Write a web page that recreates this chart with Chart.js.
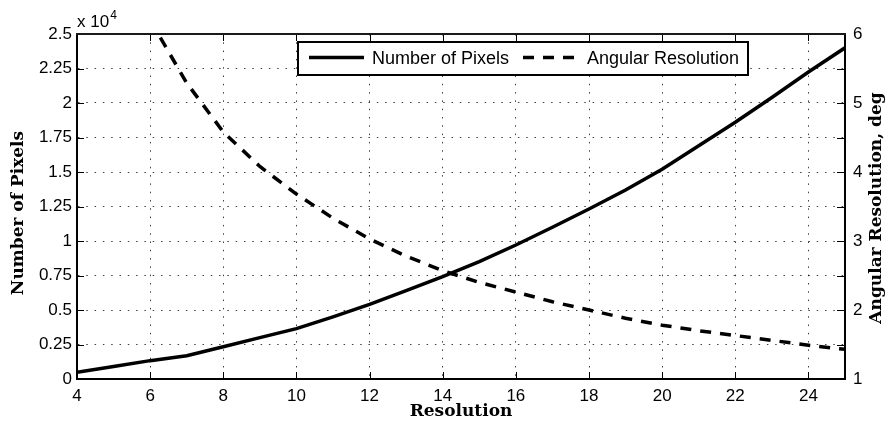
<!DOCTYPE html>
<html>
<head>
<meta charset="utf-8">
<script src="https://cdn.jsdelivr.net/npm/chart.js@4/dist/chart.umd.min.js"></script>
<style>
  html, body { margin: 0; padding: 0; background: #fff; }
  #wrap { width: 888px; height: 425px; position: relative; }
</style>
</head>
<body>
<div id="wrap"><canvas id="c"></canvas></div>
<script>
// Resolution levels on the x axis
const resolution = [4, 5, 6, 7, 8, 9, 10, 11, 12, 13, 14, 15, 16, 17, 18, 19, 20, 21, 22, 23, 24, 25];
// Total pixel count for each resolution
const numPixels = [480, 900, 1330, 1690, 2340, 3000, 3650, 4500, 5410, 6400, 7410, 8500,
                   9710, 11000, 12320, 13700, 15200, 16900, 18600, 20400, 22250, 24000];
// Angular resolution in degrees for each resolution
const angRes = [9.8, 7.5, 6.2, 5.29, 4.58, 4.08, 3.68, 3.33, 3.03, 2.78, 2.57, 2.40,
                2.26, 2.12, 2.0, 1.88, 1.78, 1.70, 1.63, 1.56, 1.49, 1.43];

// Tick values
const xTicks = [4, 6, 8, 10, 12, 14, 16, 18, 20, 22, 24];
const leftTicks = [0, 2500, 5000, 7500, 10000, 12500, 15000, 17500, 20000, 22500, 25000];
const rightTicks = [1, 2, 3, 4, 5, 6];
const rightMinorTicks = [1, 1.5, 2, 2.5, 3, 3.5, 4, 4.5, 5, 5.5, 6];

const tickFont = { family: 'Liberation Sans, Arial, sans-serif', size: 17 };
const gridDots = [1.5, 6.8];
const gridColor = 'rgba(0,0,0,0.75)';

const pts = (xs, ys) => xs.map((x, i) => ({ x: x, y: ys[i] }));

// Inward tick marks on all four sides plus the top frame edge
const frameTicks = {
  id: 'frameTicks',
  afterDatasetsDraw(chart) {
    const { ctx, chartArea: a, scales } = chart;
    ctx.save();
    ctx.strokeStyle = '#000';
    ctx.lineWidth = 1;
    const len = 7;
    ctx.beginPath();
    xTicks.forEach(v => {
      const px = Math.round(scales.x.getPixelForValue(v)) + 0.5;
      ctx.moveTo(px, a.bottom); ctx.lineTo(px, a.bottom - len);
      ctx.moveTo(px, a.top); ctx.lineTo(px, a.top + len);
    });
    leftTicks.forEach(v => {
      const py = Math.round(scales.y.getPixelForValue(v)) + 0.5;
      ctx.moveTo(a.left, py); ctx.lineTo(a.left + len, py);
    });
    rightMinorTicks.forEach(v => {
      const py = Math.round(scales.y2.getPixelForValue(v)) + 0.5;
      ctx.moveTo(a.right, py); ctx.lineTo(a.right - len - 1, py);
    });
    ctx.stroke();
    // top edge of the box
    ctx.strokeStyle = '#1a1a1a';
    ctx.lineWidth = 2;
    ctx.beginPath();
    ctx.moveTo(a.left - 1, a.top); ctx.lineTo(a.right + 1, a.top);
    ctx.stroke();
    ctx.restore();
  }
};

// Axis titles and the exponent marker of the left axis
const axisTitles = {
  id: 'axisTitles',
  afterDraw(chart) {
    const { ctx, chartArea: a } = chart;
    ctx.save();
    ctx.fillStyle = '#000';
    ctx.font = 'bold 17px "DejaVu Serif", serif';
    ctx.textAlign = 'center';
    ctx.textBaseline = 'middle';
    ctx.fillText('Resolution', (a.left + a.right) / 2, 412);

    ctx.save();
    ctx.translate(19, 213);
    ctx.rotate(-Math.PI / 2);
    ctx.fillText('Number of Pixels', 0, 0);
    ctx.restore();

    ctx.save();
    ctx.translate(877, 208);
    ctx.rotate(-Math.PI / 2);
    ctx.fillText('Angular Resolution, deg', 0, 0);
    ctx.restore();

    ctx.textAlign = 'left';
    ctx.textBaseline = 'alphabetic';
    ctx.font = '17px "Liberation Sans", Arial, sans-serif';
    ctx.fillText('x 10', a.left, 27);
    const w = ctx.measureText('x 10').width;
    ctx.font = '12px "Liberation Sans", Arial, sans-serif';
    ctx.fillText('4', a.left + w + 1, 19);
    ctx.restore();
  }
};

// Boxed legend inside the plot area
const boxLegend = {
  id: 'boxLegend',
  afterDraw(chart) {
    const { ctx } = chart;
    const ds = chart.data.datasets;
    const bx = 298, by = 42, bw = 450, bh = 33;
    ctx.save();
    ctx.fillStyle = '#fff';
    ctx.fillRect(bx, by, bw, bh);
    ctx.strokeStyle = '#000';
    ctx.lineWidth = 2;
    ctx.strokeRect(bx, by, bw, bh);
    const cy = by + bh / 2;
    const items = [
      { x0: 309, x1: 364, tx: 372 },
      { x0: 523, x1: 579, tx: 587 }
    ];
    ctx.font = '18px "Liberation Sans", Arial, sans-serif';
    ctx.textBaseline = 'middle';
    ctx.textAlign = 'left';
    items.forEach((it, i) => {
      const d = ds[i];
      ctx.strokeStyle = d.borderColor;
      ctx.lineWidth = d.borderWidth;
      ctx.setLineDash(d.borderDash || []);
      ctx.beginPath();
      ctx.moveTo(it.x0, cy - 1); ctx.lineTo(it.x1, cy - 1);
      ctx.stroke();
      ctx.setLineDash([]);
      ctx.fillStyle = '#000';
      ctx.fillText(d.label, it.tx, cy + 1);
    });
    ctx.restore();
  }
};

new Chart(document.getElementById('c'), {
  type: 'line',
  data: {
    datasets: [
      {
        label: 'Number of Pixels',
        data: pts(resolution, numPixels),
        yAxisID: 'y',
        borderColor: '#000',
        borderWidth: 3.5,
        pointRadius: 0,
        tension: 0,
        fill: false
      },
      {
        label: 'Angular Resolution',
        data: pts(resolution, angRes),
        yAxisID: 'y2',
        borderColor: '#000',
        borderWidth: 3.5,
        borderDash: [11, 9],
        pointRadius: 0,
        tension: 0,
        fill: false
      }
    ]
  },
  options: {
    responsive: true,
    maintainAspectRatio: false,
    animation: false,
    devicePixelRatio: 1,
    layout: { padding: { top: 34, left: 0, right: 0, bottom: 0 } },
    plugins: {
      legend: { display: false },
      tooltip: { enabled: false }
    },
    scales: {
      x: {
        type: 'linear',
        position: 'bottom',
        min: 4,
        max: 25,
        afterBuildTicks: s => { s.ticks = xTicks.map(v => ({ value: v })); },
        afterFit: s => { s.height = 46; },
        grid: { color: gridColor, lineWidth: 1, drawTicks: false },
        border: { display: true, color: '#000', width: 2, dash: gridDots },
        ticks: { font: tickFont, color: '#000', padding: 7, maxRotation: 0 }
      },
      y: {
        type: 'linear',
        position: 'left',
        min: 0,
        max: 25000,
        afterBuildTicks: s => { s.ticks = leftTicks.map(v => ({ value: v })); },
        afterFit: s => { s.width = 77; },
        grid: { color: gridColor, lineWidth: 1, drawTicks: false },
        border: { display: true, color: '#000', width: 2, dash: gridDots },
        ticks: { font: tickFont, color: '#000', padding: 5, callback: v => String(v / 10000) }
      },
      y2: {
        type: 'linear',
        position: 'right',
        min: 1,
        max: 6,
        afterBuildTicks: s => { s.ticks = rightTicks.map(v => ({ value: v })); },
        afterFit: s => { s.width = 43; },
        grid: { display: false, drawTicks: false },
        border: { display: true, color: '#000', width: 2 },
        ticks: { font: tickFont, color: '#000', padding: 8 }
      }
    }
  },
  plugins: [frameTicks, axisTitles, boxLegend]
});
</script>
</body>
</html>
